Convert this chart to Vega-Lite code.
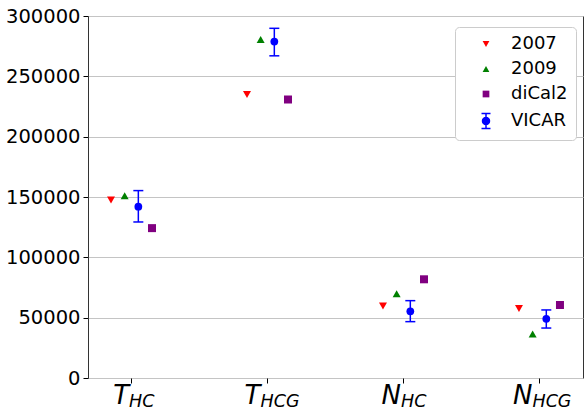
{
  "$schema": "https://vega.github.io/schema/vega-lite/v6.json",
  "width": 495,
  "height": 362,
  "autosize": {"type": "none"},
  "padding": {"left": 88, "top": 16, "right": 2, "bottom": 32},
  "background": "white",
  "config": {
    "view": {"stroke": "#333333", "strokeWidth": 1},
    "font": "DejaVu Sans",
    "axisY": {"labelFont": "DejaVu Sans", "labelFontSize": 19.5, "labelColor": "#000000", "labelPadding": 3}
  },
  "datasets": {
    "points": [
      {"cat": "T_HC", "series": "2007", "value": 147500},
      {"cat": "T_HC", "series": "2009", "value": 151000},
      {"cat": "T_HC", "series": "VICAR", "value": 142000, "lo": 129300, "hi": 155300},
      {"cat": "T_HC", "series": "diCal2", "value": 124200},
      {"cat": "T_HCG", "series": "2007", "value": 235000},
      {"cat": "T_HCG", "series": "2009", "value": 280500},
      {"cat": "T_HCG", "series": "VICAR", "value": 278800, "lo": 267000, "hi": 289800},
      {"cat": "T_HCG", "series": "diCal2", "value": 230800},
      {"cat": "N_HC", "series": "2007", "value": 59700},
      {"cat": "N_HC", "series": "2009", "value": 69800},
      {"cat": "N_HC", "series": "VICAR", "value": 55300, "lo": 46700, "hi": 64100},
      {"cat": "N_HC", "series": "diCal2", "value": 81800},
      {"cat": "N_HCG", "series": "2007", "value": 57600},
      {"cat": "N_HCG", "series": "2009", "value": 36400},
      {"cat": "N_HCG", "series": "VICAR", "value": 49100, "lo": 41400, "hi": 56400},
      {"cat": "N_HCG", "series": "diCal2", "value": 60500}
    ],
    "labels": [
      {"cat": "T_HC", "main": "T", "sub": "HC"},
      {"cat": "T_HCG", "main": "T", "sub": "HCG"},
      {"cat": "N_HC", "main": "N", "sub": "HC"},
      {"cat": "N_HCG", "main": "N", "sub": "HCG"}
    ]
  },
  "encoding": {
    "x": {
      "field": "cat",
      "type": "nominal",
      "sort": ["T_HC", "T_HCG", "N_HC", "N_HCG"],
      "scale": {"type": "band", "paddingInner": 0.36, "paddingOuter": 0},
      "axis": {"labels": false, "title": null, "domain": false, "grid": false, "ticks": true, "bandPosition": 0.5, "tickSize": 5, "tickColor": "#000000", "tickWidth": 1}
    }
  },
  "layer": [
    {
      "data": {"name": "points"},
      "transform": [{"filter": "datum.series === 'VICAR'"}],
      "mark": {"type": "rule", "color": "blue", "strokeWidth": 1.5},
      "encoding": {
        "xOffset": {"field": "series", "type": "nominal", "scale": {"type": "point", "domain": ["2007", "2009", "VICAR", "diCal2"], "range": [23, 64], "padding": 0}},
        "y": {
          "field": "lo", "type": "quantitative", "title": null,
          "scale": {"domain": [0, 300000], "nice": false, "zero": true},
          "axis": {
            "values": [0, 25000, 50000, 75000, 100000, 125000, 150000, 175000, 200000, 225000, 250000, 275000, 300000],
            "labelExpr": "datum.value % 50000 === 0 ? datum.value : ''",
            "labelFontSize": 19.5,
            "tickColor": "#000000",
            "tickWidth": 1,
            "tickSize": {"condition": {"test": "datum.value % 50000 === 0", "value": 5}, "value": 3},
            "domain": false,
            "grid": true,
            "gridColor": "#c4c4c4",
            "gridWidth": 1,
            "title": null
          }
        },
        "y2": {"field": "hi"}
      }
    },
    {
      "data": {"name": "points"},
      "transform": [{"filter": "datum.series === 'VICAR'"}],
      "mark": {"type": "tick", "orient": "horizontal", "color": "blue", "size": 10, "thickness": 1.5, "opacity": 1},
      "encoding": {
        "xOffset": {"field": "series", "type": "nominal"},
        "y": {"field": "lo", "type": "quantitative"}
      }
    },
    {
      "data": {"name": "points"},
      "transform": [{"filter": "datum.series === 'VICAR'"}],
      "mark": {"type": "tick", "orient": "horizontal", "color": "blue", "size": 10, "thickness": 1.5, "opacity": 1},
      "encoding": {
        "xOffset": {"field": "series", "type": "nominal"},
        "y": {"field": "hi", "type": "quantitative"}
      }
    },
    {
      "data": {"name": "points"},
      "transform": [{"filter": "datum.series === 'VICAR'"}],
      "mark": {"type": "point", "filled": true, "shape": "circle", "size": 60, "opacity": 1},
      "encoding": {
        "xOffset": {"field": "series", "type": "nominal"},
        "y": {"field": "value", "type": "quantitative"},
        "color": {
          "field": "series", "type": "nominal",
          "scale": {"domain": ["2007", "2009", "diCal2", "VICAR"], "range": ["red", "green", "purple", "blue"]},
          "legend": {
            "orient": "none", "legendX": 367, "legendY": 11, "title": null,
            "labelFontSize": 18, "labelFont": "DejaVu Sans", "labelColor": "#000000",
            "symbolSize": 45, "symbolOpacity": 1, "padding": 8, "cornerRadius": 4,
            "strokeColor": "#cccccc", "fillColor": "white", "rowPadding": 7,
            "symbolOffset": 14, "labelOffset": 16,
            "encode": {"symbols": {"update": {"stroke": [{"test": "datum.value === 'VICAR'", "value": "blue"}, {"value": "transparent"}], "strokeWidth": {"value": 1.5}}}}
          }
        }
      }
    },
    {
      "data": {"name": "points"},
      "transform": [{"filter": "datum.series !== 'VICAR'"}],
      "mark": {"type": "point", "filled": true, "size": 64, "opacity": 1},
      "encoding": {
        "xOffset": {"field": "series", "type": "nominal"},
        "y": {"field": "value", "type": "quantitative"},
        "color": {"field": "series", "type": "nominal"},
        "shape": {
          "field": "series", "type": "nominal",
          "scale": {"domain": ["2007", "2009", "diCal2", "VICAR"], "range": ["triangle-down", "triangle-up", "square", "M-1.04,0A1.04,1.04,0,1,0,1.04,0A1.04,1.04,0,1,0,-1.04,0ZM0,-2.24L0,2.24M-1.34,-2.24L1.34,-2.24M-1.34,2.24L1.34,2.24"]}
        }
      }
    },
    {
      "data": {"name": "labels"},
      "transform": [{"filter": "datum.sub === 'HC'"}],
      "mark": {"type": "text", "align": "right", "baseline": "alphabetic", "dx": -2.5, "dy": 26, "fontSize": 26, "fontStyle": "italic", "font": "DejaVu Sans", "color": "#000000"},
      "encoding": {"y": {"datum": 0, "type": "quantitative"}, "text": {"field": "main"}}
    },
    {
      "data": {"name": "labels"},
      "transform": [{"filter": "datum.sub === 'HCG'"}],
      "mark": {"type": "text", "align": "right", "baseline": "alphabetic", "dx": -7, "dy": 26, "fontSize": 26, "fontStyle": "italic", "font": "DejaVu Sans", "color": "#000000"},
      "encoding": {"y": {"datum": 0, "type": "quantitative"}, "text": {"field": "main"}}
    },
    {
      "data": {"name": "labels"},
      "transform": [{"filter": "datum.sub === 'HC'"}],
      "mark": {"type": "text", "align": "left", "baseline": "alphabetic", "dx": -2.5, "dy": 29, "fontSize": 17.5, "fontStyle": "italic", "font": "DejaVu Sans", "color": "#000000"},
      "encoding": {"y": {"datum": 0, "type": "quantitative"}, "text": {"field": "sub"}}
    },
    {
      "data": {"name": "labels"},
      "transform": [{"filter": "datum.sub === 'HCG'"}],
      "mark": {"type": "text", "align": "left", "baseline": "alphabetic", "dx": -7, "dy": 29, "fontSize": 17.5, "fontStyle": "italic", "font": "DejaVu Sans", "color": "#000000"},
      "encoding": {"y": {"datum": 0, "type": "quantitative"}, "text": {"field": "sub"}}
    }
  ]
}
